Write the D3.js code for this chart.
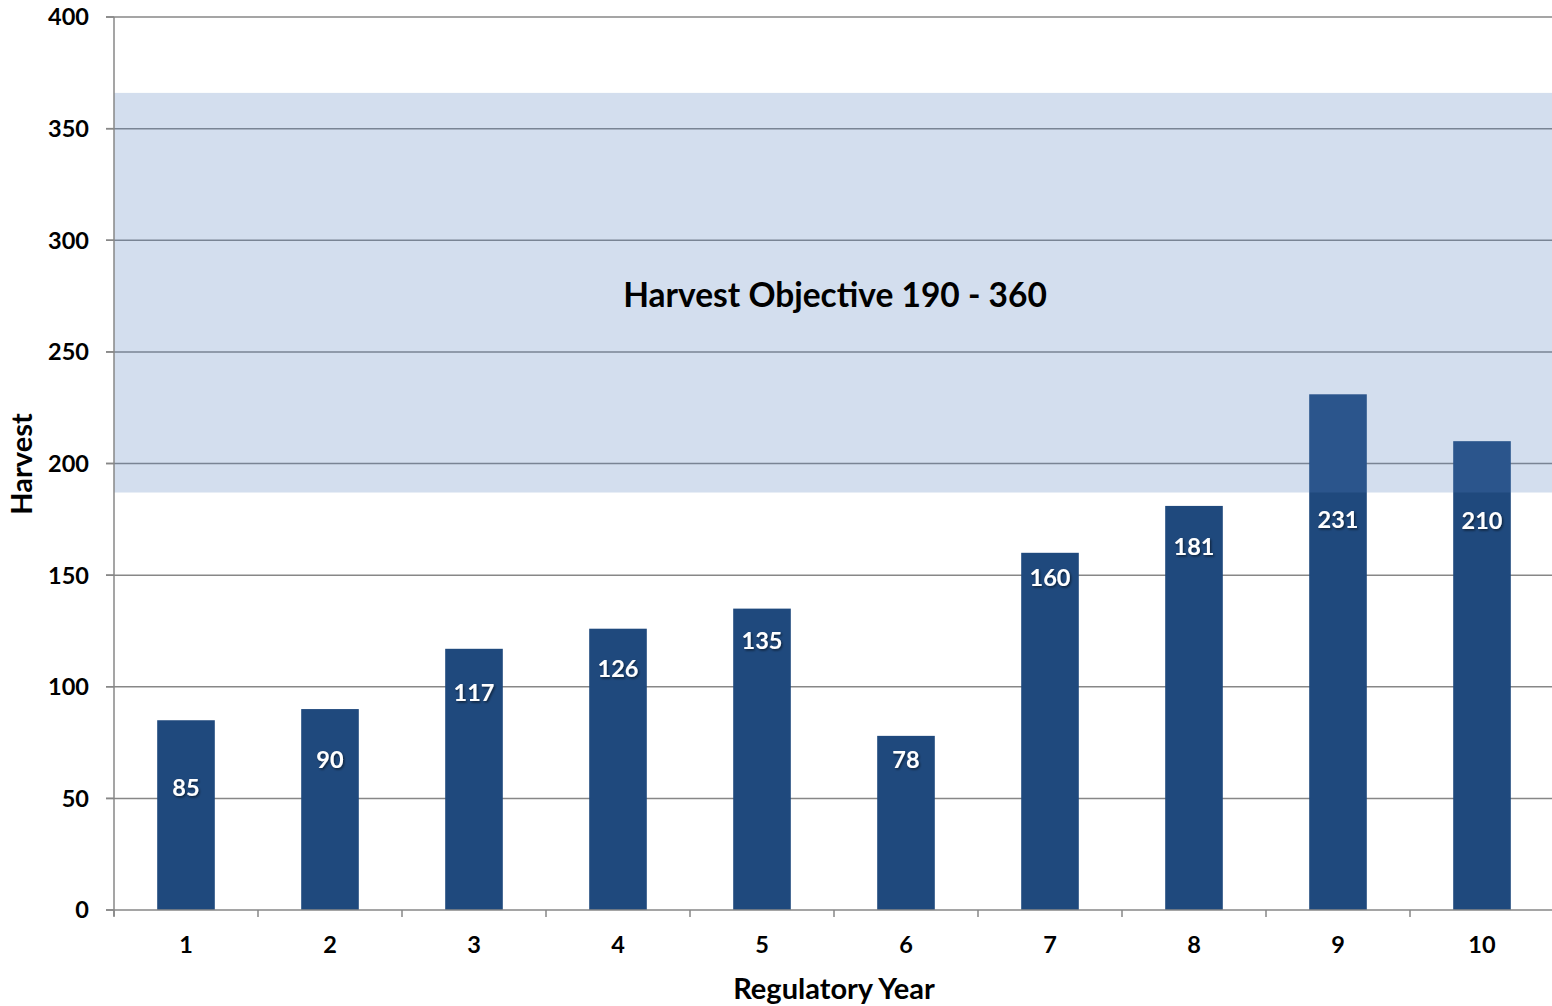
<!DOCTYPE html>
<html>
<head>
<meta charset="utf-8">
<script src="https://d3js.org/d3.v7.min.js"></script>
<style>
  body { margin: 0; background: #fff; }
  text { font-family: Lato, "Open Sans", sans-serif; font-weight: bold; }
</style>
</head>
<body>
<div id="chart"></div>
<script>
// Data
const years = ["1", "2", "3", "4", "5", "6", "7", "8", "9", "10"];
const harvest = [85, 90, 117, 126, 135, 78, 160, 181, 231, 210];
// value on the y scale where each bar label sits (labels are not at a fixed offset)
const labelAt = [55, 67.5, 97.5, 108, 120.5, 67.5, 149, 163, 175, 174.5];
const yTicks = [0, 50, 100, 150, 200, 250, 300, 350, 400];
const objectiveBand = [187, 366];
const objectiveLabel = "Harvest Objective 190 - 360";

const width = 1552, height = 1006;
const margin = { top: 17, right: -2, bottom: 96, left: 114 };

const svg = d3.select("#chart").append("svg")
    .attr("width", width)
    .attr("height", height);

// Soft shadow for the white bar labels
const defs = svg.append("defs");
const shadow = defs.append("filter").attr("id", "shadow")
    .attr("x", "-20%").attr("y", "-20%").attr("width", "140%").attr("height", "140%");
shadow.append("feDropShadow")
    .attr("dx", 1.2).attr("dy", 1.5).attr("stdDeviation", 1)
    .attr("flood-color", "#000").attr("flood-opacity", 0.55);

const x = d3.scaleBand()
    .domain(years)
    .range([margin.left, width - margin.right])
    .paddingInner(0.6)
    .paddingOuter(0.3);

const y = d3.scaleLinear()
    .domain([0, 400])
    .range([height - margin.bottom, margin.top]);

// Gridlines
svg.append("g")
    .selectAll("line")
    .data(yTicks.filter(d => d > 0))
    .enter().append("line")
    .attr("x1", margin.left - 8)
    .attr("x2", width)
    .attr("y1", d => y(d))
    .attr("y2", d => y(d))
    .attr("stroke", "#878787")
    .attr("stroke-width", 1.5);

// Bars
svg.append("g")
    .selectAll("rect")
    .data(harvest)
    .enter().append("rect")
    .attr("x", (d, i) => x(years[i]))
    .attr("width", x.bandwidth())
    .attr("y", d => y(d))
    .attr("height", d => y(0) - y(d))
    .attr("fill", "#1F497D");

// Objective band drawn over the bars, semi-transparent
svg.append("rect")
    .attr("x", margin.left)
    .attr("width", width - margin.left)
    .attr("y", y(objectiveBand[1]))
    .attr("height", y(objectiveBand[0]) - y(objectiveBand[1]))
    .attr("fill", "rgb(79,123,187)")
    .attr("fill-opacity", 0.25);

svg.append("text")
    .attr("x", 835)
    .attr("y", 295)
    .attr("dy", "0.36em")
    .attr("text-anchor", "middle")
    .style("font-size", "33.5px")
    .attr("fill", "#000")
    .text(objectiveLabel);

// Bar labels
svg.append("g")
    .selectAll("text")
    .data(harvest)
    .enter().append("text")
    .attr("x", (d, i) => x(years[i]) + x.bandwidth() / 2)
    .attr("y", (d, i) => y(labelAt[i]))
    .attr("dy", "0.36em")
    .attr("text-anchor", "middle")
    .attr("fill", "#fff")
    .attr("filter", "url(#shadow)")
    .style("font-size", "23.5px")
    .text(d => d);

// Y axis
const axisColor = "#878787";
const yAxis = svg.append("g");
yAxis.append("line")
    .attr("x1", margin.left).attr("x2", margin.left)
    .attr("y1", y(400)).attr("y2", y(0) + 6)
    .attr("stroke", axisColor).attr("stroke-width", 1.5);
yAxis.selectAll(".tick")
    .data(yTicks)
    .enter().append("line")
    .attr("x1", margin.left - 8).attr("x2", margin.left)
    .attr("y1", d => y(d)).attr("y2", d => y(d))
    .attr("stroke", axisColor).attr("stroke-width", 1.5);
yAxis.selectAll("text")
    .data(yTicks)
    .enter().append("text")
    .attr("x", 89)
    .attr("y", d => y(d))
    .attr("dy", "0.36em")
    .attr("text-anchor", "end")
    .style("font-size", "23.5px")
    .text(d => d);

// X axis
const xAxis = svg.append("g");
xAxis.append("line")
    .attr("x1", margin.left - 8).attr("x2", width)
    .attr("y1", y(0)).attr("y2", y(0))
    .attr("stroke", axisColor).attr("stroke-width", 1.5);
xAxis.selectAll(".tick")
    .data(years)
    .enter().append("line")
    .attr("x1", d => x(d) - x.step() * x.paddingOuter())
    .attr("x2", d => x(d) - x.step() * x.paddingOuter())
    .attr("y1", y(0)).attr("y2", y(0) + 7)
    .attr("stroke", axisColor).attr("stroke-width", 1.5);
xAxis.selectAll("text")
    .data(years)
    .enter().append("text")
    .attr("x", d => x(d) + x.bandwidth() / 2)
    .attr("y", 945)
    .attr("dy", "0.36em")
    .attr("text-anchor", "middle")
    .style("font-size", "23.5px")
    .text(d => d);

// Axis titles
svg.append("text")
    .attr("x", 834)
    .attr("y", 989)
    .attr("dy", "0.36em")
    .attr("text-anchor", "middle")
    .style("font-size", "29px")
    .text("Regulatory Year");

svg.append("text")
    .attr("transform", "translate(22,464) rotate(-90)")
    .attr("dy", "0.36em")
    .attr("text-anchor", "middle")
    .style("font-size", "29px")
    .text("Harvest");
</script>
</body>
</html>
